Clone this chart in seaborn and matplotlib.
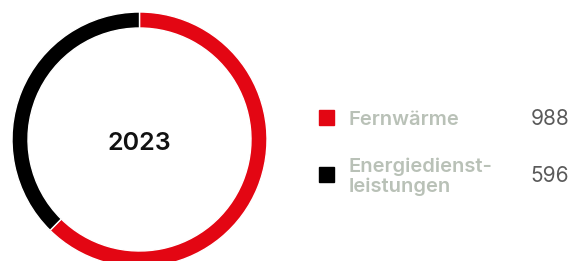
import matplotlib
matplotlib.use('Agg')
import matplotlib.pyplot as plt
from matplotlib.patches import Rectangle
import seaborn as sns

# data
labels = ['Fernwärme', 'Energiedienst-\nleistungen']
values = [988, 596]
colors = ['#e30613', '#000000']
center_label = '2023'

sns.set_theme(style='white')
plt.rcParams['font.family'] = ['Inter', 'DejaVu Sans']

fig = plt.figure(figsize=(5.72, 2.61), dpi=100)
ax = fig.add_axes([0, 0, 1, 1])

# donut, coordinates in pixel units (y up)
ax.pie(values, colors=colors, startangle=90, counterclock=False,
       center=(139.5, 121.5), radius=127.5,
       wedgeprops=dict(width=16, edgecolor='white', linewidth=1))
ax.set_xlim(0, 572)
ax.set_ylim(0, 261)
ax.set_aspect('equal', adjustable='datalim')
ax.axis('off')

ax.text(139.5, 111, center_label, ha='center', va='baseline',
        fontsize=18, fontweight='semibold', color='#111111')

# legend
key_y = [144, 87]
label_y = [136, 69]
num_y = [136, 79]
for i in range(len(values)):
    ax.add_patch(Rectangle((319, key_y[i] - 7.5), 15, 15, color=colors[i]))
    ax.text(349, label_y[i], labels[i], ha='left', va='baseline',
            fontsize=14.5, fontweight='semibold', color='#b9c1b7',
            linespacing=1.12)
    ax.text(569, num_y[i], str(values[i]), ha='right', va='baseline',
            fontsize=15, color='#5a5a5a')

fig.savefig('out.png', dpi=100)
